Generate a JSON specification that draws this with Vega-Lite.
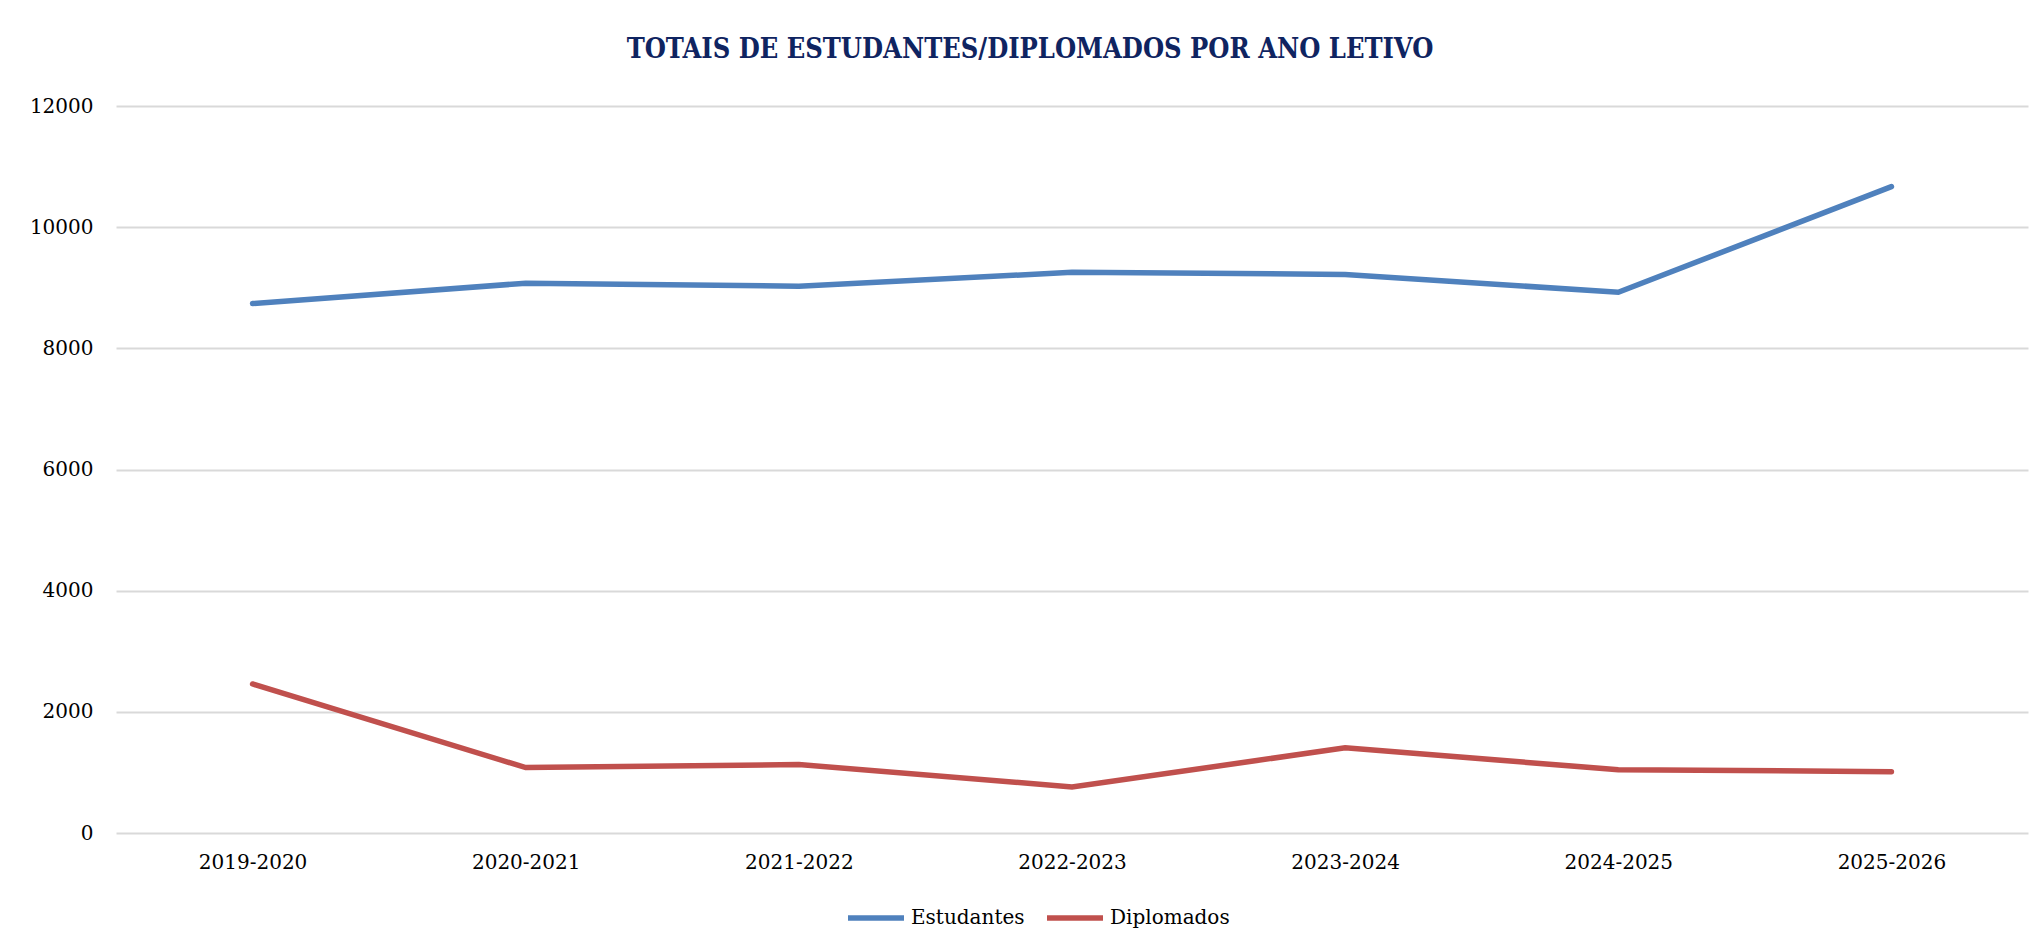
{
  "$schema": "https://vega.github.io/schema/vega-lite/v6.json",
  "autosize": "none",
  "width": 1912,
  "height": 727,
  "padding": {"left": 116, "top": 106, "right": 15, "bottom": 115},
  "background": "#ffffff",
  "title": {
    "text": "TOTAIS DE ESTUDANTES/DIPLOMADOS POR ANO LETIVO",
    "font": "DejaVu Serif Condensed",
    "fontWeight": "bold",
    "fontSize": 27,
    "color": "#0F2461",
    "anchor": "middle",
    "baseline": "bottom",
    "offset": 5,
    "dx": -42
  },
  "data": {
    "values": [
      {"ano": "2019-2020", "serie": "Estudantes", "total": 8740},
      {"ano": "2020-2021", "serie": "Estudantes", "total": 9075},
      {"ano": "2021-2022", "serie": "Estudantes", "total": 9025},
      {"ano": "2022-2023", "serie": "Estudantes", "total": 9255},
      {"ano": "2023-2024", "serie": "Estudantes", "total": 9220},
      {"ano": "2024-2025", "serie": "Estudantes", "total": 8925},
      {"ano": "2025-2026", "serie": "Estudantes", "total": 10670},
      {"ano": "2019-2020", "serie": "Diplomados", "total": 2460},
      {"ano": "2020-2021", "serie": "Diplomados", "total": 1080},
      {"ano": "2021-2022", "serie": "Diplomados", "total": 1130},
      {"ano": "2022-2023", "serie": "Diplomados", "total": 760},
      {"ano": "2023-2024", "serie": "Diplomados", "total": 1405},
      {"ano": "2024-2025", "serie": "Diplomados", "total": 1045},
      {"ano": "2025-2026", "serie": "Diplomados", "total": 1012}
    ]
  },
  "mark": {"type": "line", "strokeWidth": 5.5, "strokeCap": "round", "strokeJoin": "miter"},
  "encoding": {
    "x": {
      "field": "ano",
      "type": "ordinal",
      "scale": {"type": "point", "padding": 0.5},
      "axis": {
        "title": null,
        "labelAngle": 0,
        "ticks": false,
        "domain": false,
        "grid": false,
        "labelFont": "DejaVu Serif",
        "labelFontSize": 20,
        "labelColor": "#000000",
        "labelPadding": 19
      }
    },
    "y": {
      "field": "total",
      "type": "quantitative",
      "scale": {"domain": [0, 12000], "nice": false, "zero": true},
      "axis": {
        "title": null,
        "values": [0, 2000, 4000, 6000, 8000, 10000, 12000],
        "format": "d",
        "ticks": false,
        "domain": false,
        "grid": true,
        "gridColor": "#D9D9D9",
        "gridWidth": 2,
        "labelFont": "DejaVu Serif",
        "labelFontSize": 20,
        "labelColor": "#000000",
        "labelPadding": 23
      }
    },
    "color": {
      "field": "serie",
      "type": "nominal",
      "sort": ["Estudantes", "Diplomados"],
      "scale": {"domain": ["Estudantes", "Diplomados"], "range": ["#4F81BD", "#C0504D"]},
      "legend": {
        "title": null,
        "orient": "none",
        "direction": "horizontal",
        "legendX": 729,
        "legendY": 781,
        "symbolType": "stroke",
        "symbolSize": 3136,
        "symbolStrokeWidth": 5.5,
        "labelFont": "DejaVu Serif",
        "labelFontSize": 20,
        "labelColor": "#000000",
        "labelOffset": 4,
        "columnPadding": 11
      }
    }
  },
  "config": {"view": {"stroke": null}}
}
